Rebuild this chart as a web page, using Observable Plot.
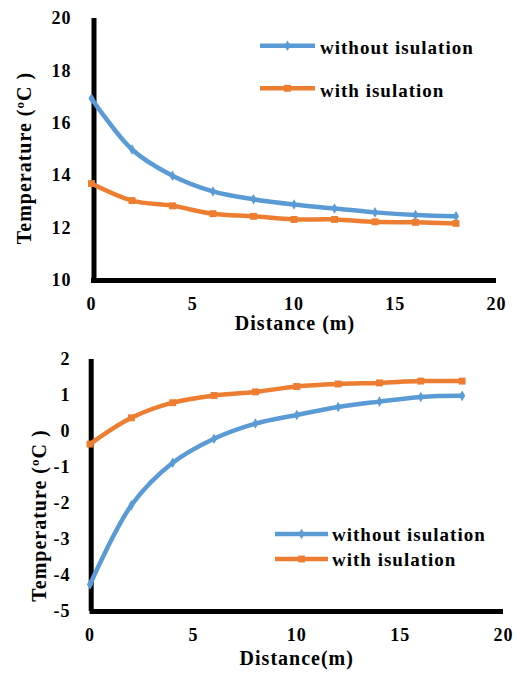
<!DOCTYPE html>
<html><head><meta charset="utf-8">
<script src="https://cdn.jsdelivr.net/npm/d3@7"></script>
<script src="https://cdn.jsdelivr.net/npm/@observablehq/plot@0.6"></script>
<style>
body{margin:0;background:#fff;}
#wrap{width:517px;}
.panel{position:relative;width:517px;}
.panel svg.legend{position:absolute;left:0;top:0;}
</style></head><body><div id="wrap"></div>
<script>
// ---- data ----
const distance = [0, 2, 4, 6, 8, 10, 12, 14, 16, 18];
const topWithout = [16.95, 15.0, 14.0, 13.4, 13.1, 12.9, 12.75, 12.6, 12.5, 12.45];
const topWith = [13.7, 13.05, 12.85, 12.55, 12.45, 12.33, 12.33, 12.24, 12.22, 12.18];
const bottomWithout = [-4.25, -2.05, -0.87, -0.2, 0.22, 0.46, 0.68, 0.83, 0.96, 0.99];
const bottomWith = [-0.35, 0.38, 0.8, 1.0, 1.1, 1.25, 1.32, 1.35, 1.4, 1.4];
const seriesNames = ["without isulation", "with isulation"];
const seriesColors = ["#5B9BD5", "#ED7D31"];
const xTicks = [0, 5, 10, 15, 20];
const topYTicks = [10, 12, 14, 16, 18, 20];
const bottomYTicks = [-5, -4, -3, -2, -1, 0, 1, 2];
const yTitle = "Temperature (ºC )";
const topXTitle = "Distance (m)";
const bottomXTitle = "Distance(m)";

const FONT = "'Liberation Serif', 'Times New Roman', serif";

function panel(o) {
  const rows = [];
  distance.forEach((d, i) => rows.push({distance: d, temp: o.without[i], series: seriesNames[0]}));
  distance.forEach((d, i) => rows.push({distance: d, temp: o.withIns[i], series: seriesNames[1]}));
  const w = rows.filter(r => r.series === seriesNames[0]);
  const wi = rows.filter(r => r.series === seriesNames[1]);
  const chart = Plot.plot({
    width: 517,
    height: o.height,
    marginTop: o.mt, marginBottom: o.mb, marginLeft: o.ml, marginRight: o.mr,
    style: {fontFamily: FONT, fontWeight: "bold", letterSpacing: "1px", background: "#fff", color: "#000"},
    x: {domain: [0, 20], label: null},
    y: {domain: o.yDomain, label: null},
    color: {domain: seriesNames, range: seriesColors},
    marks: [
      Plot.ruleX([0], {stroke: "#000", strokeWidth: 5, dx: o.axisDx}),
      Plot.ruleY([o.yDomain[0]], {stroke: "#000", strokeWidth: 5}),
      Plot.line(rows, {x: "distance", y: "temp", z: "series", stroke: "series", strokeWidth: 4.5, curve: "catmull-rom"}),
      Plot.dot(w, {x: "distance", y: "temp", symbol: "diamond", fill: seriesColors[0], r: 3.2}),
      Plot.dot(wi, {x: "distance", y: "temp", symbol: "square", fill: seriesColors[1], r: 3.9}),
      Plot.axisX({ticks: xTicks, tickSize: 0, tickPadding: o.xPad, fontSize: 18, label: null}),
      Plot.axisY({ticks: o.yTicks, tickSize: 0, tickPadding: o.yPad, fontSize: 18, label: null, tickFormat: d => String(d)}),
      Plot.text([yTitle], {frameAnchor: "left", textAnchor: "middle", rotate: -90, lineAnchor: "bottom", dx: o.ytDx, dy: o.ytDy, fontSize: 20}),
      Plot.text([o.xTitle], {frameAnchor: "bottom", textAnchor: "middle", lineAnchor: "bottom", dx: o.xtDx, dy: o.xtDy, fontSize: 20})
    ]
  });
  const div = document.createElement("div");
  div.className = "panel";
  div.style.height = o.height + "px";
  div.appendChild(chart);
  // legend overlay
  const lg = d3.create("svg").attr("class", "legend").attr("width", 517).attr("height", o.height);
  const symbols = [d3.symbolDiamond, d3.symbolSquare];
  const rs = [3.2, 3.9];
  o.legend.ys.forEach((y, i) => {
    lg.append("line").attr("x1", o.legend.x1).attr("x2", o.legend.x2).attr("y1", y).attr("y2", y)
      .attr("stroke", seriesColors[i]).attr("stroke-width", 4.5);
    lg.append("path").attr("d", d3.symbol(symbols[i], Math.PI * rs[i] * rs[i])())
      .attr("transform", `translate(${(o.legend.x1 + o.legend.x2) / 2},${y})`).attr("fill", seriesColors[i]);
    lg.append("text").attr("x", o.legend.tx).attr("y", o.legend.tys[i]).text(seriesNames[i])
      .attr("font-family", FONT).attr("font-weight", "bold").attr("font-size", 19)
      .style("letter-spacing", "1px").attr("fill", "#000");
  });
  div.appendChild(lg.node());
  return div;
}

const wrap = document.getElementById("wrap");
wrap.appendChild(panel({
  without: topWithout, withIns: topWith, yDomain: [10, 20], yTicks: topYTicks,
  height: 335, mt: 18, mb: 55, ml: 91, mr: 21, axisDx: 2.5,
  xPad: 17, yPad: 20, xTitle: topXTitle,
  ytDx: -61, ytDy: 8.5, xtDx: 1, xtDy: 49,
  legend: {x1: 260, x2: 315, ys: [45.7, 88.3], tx: 320, tys: [54, 96.7]}
}));
wrap.appendChild(panel({
  without: bottomWithout, withIns: bottomWith, yDomain: [-5, 2], yTicks: bottomYTicks,
  height: 338, mt: 24, mb: 62, ml: 89.5, mr: 14, axisDx: 1.2,
  xPad: 17, yPad: 19.5, xTitle: bottomXTitle,
  ytDx: -44.5, ytDy: 30, xtDx: 0, xtDy: 53,
  legend: {x1: 275, x2: 328, ys: [199, 224], tx: 332, tys: [206, 231]}
}));
</script></body></html>
